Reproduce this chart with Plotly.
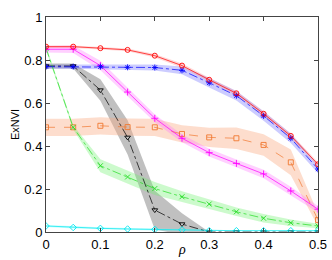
import plotly.graph_objects as go

rho = [0, 0.05, 0.1, 0.15, 0.2, 0.25, 0.3, 0.35, 0.4, 0.45, 0.5]

red_mean = [0.862, 0.862, 0.855, 0.847, 0.82, 0.774, 0.708, 0.645, 0.55, 0.447, 0.315]
red_sd = [0.006, 0.006, 0.006, 0.006, 0.008, 0.01, 0.01, 0.01, 0.01, 0.01, 0.01]

blue_mean = [0.769, 0.769, 0.769, 0.766, 0.765, 0.752, 0.694, 0.634, 0.54, 0.436, 0.293]
blue_sd = [0.01, 0.01, 0.01, 0.012, 0.014, 0.018, 0.022, 0.022, 0.022, 0.022, 0.02]

magenta_mean = [0.85, 0.85, 0.774, 0.651, 0.529, 0.436, 0.369, 0.319, 0.27, 0.191, 0.106]
magenta_sd = [0.015, 0.018, 0.022, 0.02, 0.018, 0.018, 0.018, 0.018, 0.02, 0.02, 0.015]

orange_mean = [0.487, 0.487, 0.494, 0.488, 0.487, 0.456, 0.44, 0.436, 0.405, 0.324, 0.056]
orange_sd = [0.04, 0.04, 0.04, 0.04, 0.04, 0.04, 0.045, 0.05, 0.05, 0.06, 0.03]

green_mean = [0.855, 0.487, 0.308, 0.256, 0.202, 0.164, 0.13, 0.094, 0.064, 0.043, 0.028]
green_sd = [0.01, 0.01, 0.03, 0.03, 0.03, 0.025, 0.022, 0.02, 0.02, 0.015, 0.01]

gray_mean = [0.772, 0.772, 0.66, 0.44, 0.102, 0.037, 0.0, 0.0, 0.0, 0.0, 0.0]
gray_sd = [0.012, 0.012, 0.05, 0.08, 0.09, 0.05, 0.0, 0.0, 0.0, 0.0, 0.0]

cyan_mean = [0.028, 0.021, 0.017, 0.014, 0.012, 0.01, 0.006, 0.006, 0.006, 0.006, 0.006]
cyan_sd = [0.005, 0.005, 0.005, 0.005, 0.005, 0.004, 0.003, 0.003, 0.003, 0.003, 0.003]

series = [
    (gray_mean, gray_sd, "#000000", "rgba(140,140,140,0.55)", "triangle-down-open", "dashdot"),
    (orange_mean, orange_sd, "#f07830", "rgba(250,170,130,0.4)", "square-open", "dash"),
    (green_mean, green_sd, "#22dd22", "rgba(110,240,110,0.35)", "x-thin-open", "dashdot"),
    (magenta_mean, magenta_sd, "#ff00ff", "rgba(255,120,255,0.35)", "cross-thin-open", "solid"),
    (blue_mean, blue_sd, "#0000ff", "rgba(110,110,255,0.35)", "asterisk-open", "dashdot"),
    (red_mean, red_sd, "#ff0000", "rgba(255,140,140,0.35)", "circle-open", "solid"),
    (cyan_mean, cyan_sd, "#00e5ee", "rgba(120,255,255,0.45)", "diamond-open", "solid"),
]

fig = go.Figure()
for mean, sd, col, fillcol, sym, dash in series:
    up = [m + s for m, s in zip(mean, sd)]
    lo = [m - s for m, s in zip(mean, sd)]
    fig.add_trace(go.Scatter(
        x=rho + rho[::-1], y=up + lo[::-1], fill="toself", fillcolor=fillcol,
        line=dict(width=0), mode="lines", hoverinfo="skip", showlegend=False))
for mean, sd, col, fillcol, sym, dash in series:
    fig.add_trace(go.Scatter(
        x=rho, y=mean, mode="lines+markers",
        line=dict(color=col, width=0.7, dash=dash),
        marker=dict(symbol=sym, size=5, color=col, line=dict(color=col, width=0.9)),
        showlegend=False))

axis_common = dict(
    showgrid=False, zeroline=False, showline=True, linecolor="#444", linewidth=1,
    mirror="ticks", ticks="inside", ticklen=4, tickcolor="#444", automargin=False,
    tickfont=dict(family="Liberation Sans, Arial", size=13, color="#000"),
)
fig.update_xaxes(range=[0, 0.5], tickvals=[0, 0.1, 0.2, 0.3, 0.4, 0.5], **axis_common)
fig.update_yaxes(range=[0, 1], tickvals=[0, 0.2, 0.4, 0.6, 0.8, 1], **axis_common)

pw, ph = 332 - 46 - 14, 260 - 17 - 28
fig.add_annotation(text="ExNVI", x=(15 - 46) / pw, y=(260 - 28 - 125) / ph, xref="paper", yref="paper",
                   xanchor="center", yanchor="middle", showarrow=False, textangle=-90,
                   font=dict(family="Liberation Sans, Arial", size=11, color="#000"))
fig.add_annotation(text="<i>ρ</i>", x=(182 - 46) / pw, y=(260 - 28 - 249) / ph, xref="paper", yref="paper",
                   xanchor="center", yanchor="middle", showarrow=False,
                   font=dict(family="Liberation Serif", size=14, color="#000"))
fig.update_layout(width=332, height=260, margin=dict(l=46, r=14, t=17, b=28, autoexpand=False),
                  plot_bgcolor="white", paper_bgcolor="white")
fig.write_html("out.html", config={"displayModeBar": False},
               post_script="document.body.style.margin='0';")
